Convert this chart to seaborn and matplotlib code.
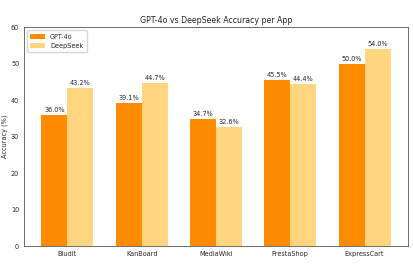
import pandas as pd
import matplotlib
matplotlib.use("Agg")
import matplotlib.pyplot as plt
import seaborn as sns

apps = ["Bludit", "KanBoard", "MediaWiki", "PrestaShop", "ExpressCart"]
gpt4o = [36.0, 39.1, 34.7, 45.5, 50.0]
deepseek = [43.2, 44.7, 32.6, 44.4, 54.0]

df = pd.DataFrame({
    "App": apps * 2,
    "Accuracy": gpt4o + deepseek,
    "Model": ["GPT-4o"] * len(apps) + ["DeepSeek"] * len(apps),
})

sns.set_style("white")
plt.rcParams["font.family"] = ["DejaVu Sans"]

fig = plt.figure(figsize=(4.13, 2.74), dpi=100)
ax = fig.add_axes([0.058, 0.102, 0.930, 0.799])

sns.barplot(data=df, x="App", y="Accuracy", hue="Model",
            palette=["#FF8C00", "#FFD580"], width=0.7, gap=0,
            saturation=1, linewidth=0, ax=ax)

for cont in ax.containers:
    ax.bar_label(cont, fmt="%.1f%%", fontsize=4.7, padding=1.5)

ax.set_xlim(-0.585, 4.585)
ax.set_ylim(0, 60)
ax.set_title("GPT-4o vs DeepSeek Accuracy per App", fontsize=5.7, pad=3)
ax.set_ylabel("Accuracy (%)", fontsize=4.7, labelpad=2)
ax.set_xlabel("")
ax.tick_params(axis="both", labelsize=4.7, length=2, width=0.5, pad=1.5)
for s in ax.spines.values():
    s.set_linewidth(0.6)
    s.set_color("#555555")
ax.legend(loc="upper left", fontsize=4.7, frameon=True, handlelength=2.2,
          handleheight=0.9, borderpad=0.5)

fig.savefig("out.png", dpi=100)
